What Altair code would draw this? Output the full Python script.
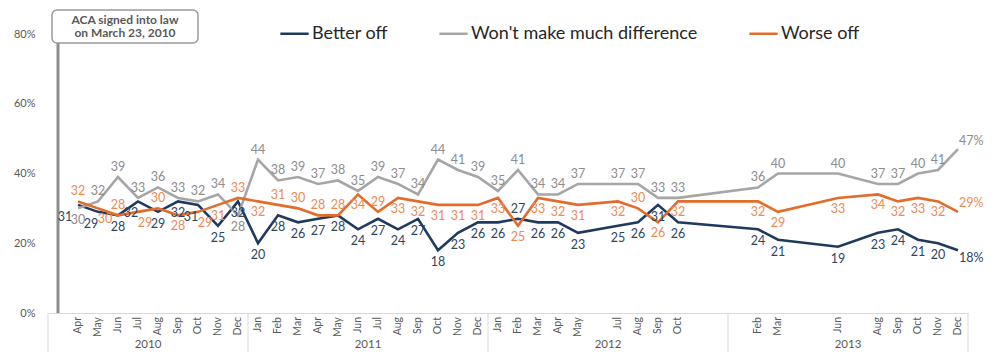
import altair as alt
import pandas as pd

# ---------------- data ----------------
months = [
    "2010-04", "2010-05", "2010-06", "2010-07", "2010-08", "2010-09", "2010-10", "2010-11", "2010-12",
    "2011-01", "2011-02", "2011-03", "2011-04", "2011-05", "2011-06", "2011-07", "2011-08", "2011-09",
    "2011-10", "2011-11", "2011-12",
    "2012-01", "2012-02", "2012-03", "2012-04", "2012-05", "2012-07", "2012-08", "2012-09", "2012-10",
    "2013-02", "2013-03", "2013-06", "2013-08", "2013-09", "2013-10", "2013-11", "2013-12",
]
better_off = [31, 29, 28, 32, 29, 32, 31, 25, 32,
              20, 28, 26, 27, 28, 24, 27, 24, 27, 18, 23, 26,
              26, 27, 26, 26, 23, 25, 26, 31, 26,
              24, 21, 19, 23, 24, 21, 20, 18]
no_difference = [30, 32, 39, 33, 36, 33, 32, 34, 28,
                 44, 38, 39, 37, 38, 35, 39, 37, 34, 44, 41, 39,
                 35, 41, 34, 34, 37, 37, 37, 33, 33,
                 36, 40, 40, 37, 37, 40, 41, 47]
worse_off = [32, 30, 28, 29, 30, 28, 29, 31, 33,
             32, 31, 30, 28, 28, 34, 29, 33, 32, 31, 31, 31,
             33, 25, 33, 32, 31, 32, 30, 26, 32,
             32, 29, 33, 34, 32, 33, 32, 29]
series_names = ["Better off", "Won't make much difference", "Worse off"]
year_labels = ["2010", "2011", "2012", "2013"]
y_ticks = [0, 20, 40, 60, 80]
month_abbr = ["Jan", "Feb", "Mar", "Apr", "May", "Jun", "Jul", "Aug", "Sep", "Oct", "Nov", "Dec"]
aca_month = "2010-03"
annotation_lines = ["ACA signed into law", "on March 23, 2010"]

# ---------------- styles ----------------
series_colors = ["#1f3a5f", "#a6a6a6", "#e46c2a"]
label_colors = ["#2c4563", "#8c8c8c", "#ec8a55"]
last_dy = [8, -8, -9]
ABOVE, BELOW_B, BELOW_O, BELOW_G = -10, 12, 11, 12
SPREAD, FIRST_SHIFT = 7, -13
FONT = "Lato"
W, H = 920, 279


def month_index(s):
    y, m = s.split("-")
    return (int(y) - 2010) * 12 + int(m) - 3


def label_offset(series, b, g, o):
    # place labels away from neighbouring lines
    if series == "Won't make much difference":
        return BELOW_G if g < o else ABOVE
    if series == "Worse off":
        if g < o:
            return ABOVE
        return ABOVE if (g - o >= 6 and 0 <= o - b < 5) else BELOW_O
    return ABOVE if (b > o and g - b >= 6) else BELOW_B


series_vals = [better_off, no_difference, worse_off]
rows = []
for i, mo in enumerate(months):
    b, g, o = better_off[i], no_difference[i], worse_off[i]
    dys = {n: label_offset(n, b, g, o) for n in series_names}
    dxs = {n: 0 for n in series_names}
    # labels of the blue line and another line that both sit below, close together: set side by side
    for other, ov in (("Worse off", o), ("Won't make much difference", g)):
        if dys["Better off"] > 0 and dys[other] > 0 and abs(ov - b) <= 3:
            if i == 0:
                dxs["Better off"] = FIRST_SHIFT
            else:
                dxs["Better off"], dxs[other] = -SPREAD, SPREAD
    last = i == len(months) - 1
    for n, vals in zip(series_names, series_vals):
        v = vals[i]
        rows.append(dict(idx=month_index(mo), series=n, value=v,
                         label=f"{v}%" if last else str(v), last=last, dy=dys[n], dx=dxs[n]))
df = pd.DataFrame(rows)

first_idx = month_index(aca_month) - 0.5
last_idx = month_index(year_labels[-1] + "-12") + 0.5
x_scale = alt.Scale(domain=[first_idx, last_idx], nice=False, zero=False)
y_scale = alt.Scale(domain=[0, 80], nice=False)

base = alt.Chart(df)

lines = base.mark_line(strokeWidth=2.6).encode(
    x=alt.X("idx:Q", scale=x_scale,
            axis=alt.Axis(labels=False, ticks=False, grid=False, domainColor="#d9d9d9",
                          domainWidth=1, title=None)),
    y=alt.Y("value:Q", scale=y_scale,
            axis=alt.Axis(values=y_ticks, labelExpr="datum.value + '%'", domain=False, ticks=False,
                          grid=False, title=None, labelPadding=13, labelFontSize=11,
                          labelColor="#595959", labelFont=FONT)),
    color=alt.Color("series:N", scale=alt.Scale(domain=series_names, range=series_colors),
                    legend=alt.Legend(orient="none", legendX=231, legendY=-16, direction="horizontal",
                                      title=None, symbolType="stroke", symbolSize=800,
                                      symbolStrokeWidth=2.5, labelFontSize=18, labelFont=FONT,
                                      labelColor="#262626", columnPadding=46, labelOffset=2,
                                      labelLimit=0)),
)

layers = [lines]
for name, lc, ldy in zip(series_names, label_colors, last_dy):
    sub = df[(df.series == name) & (~df["last"])]
    for dy, dx in sorted(set(zip(sub["dy"].tolist(), sub["dx"].tolist()))):
        layers.append(
            base.transform_filter((alt.datum.series == name) & (alt.datum.last == False)
                                  & (alt.datum.dy == dy) & (alt.datum.dx == dx))
            .mark_text(dy=dy, dx=dx, fontSize=12.5, color=lc, font=FONT)
            .encode(x=alt.X("idx:Q", scale=x_scale), y=alt.Y("value:Q", scale=y_scale), text="label:N")
        )
    layers.append(
        base.transform_filter((alt.datum.series == name) & (alt.datum.last == True))
        .mark_text(dy=ldy, dx=1, align="left", fontSize=12.5, color=lc, font=FONT)
        .encode(x=alt.X("idx:Q", scale=x_scale), y=alt.Y("value:Q", scale=y_scale), text="label:N")
    )

# month tick labels (rotated)
month_df = pd.DataFrame({"idx": [month_index(m) for m in months],
                         "mon": [month_abbr[int(m.split("-")[1]) - 1] for m in months]})
month_text = alt.Chart(month_df).mark_text(angle=270, align="right", baseline="middle", fontSize=10.5,
                                           color="#595959", font=FONT).encode(
    x=alt.X("idx:Q", scale=x_scale), y=alt.value(H + 4), text="mon:N")

# ACA annotation line
aca_df = pd.DataFrame({"idx": [month_index(aca_month)]})
aca_rule = alt.Chart(aca_df).mark_rule(color="#8c8c8c", strokeWidth=3).encode(
    x=alt.X("idx:Q", scale=x_scale), y=alt.value(9), y2=alt.value(H))
box = alt.Chart(aca_df).mark_rect(fill="white", stroke="#9a9a9a", strokeWidth=1.5, cornerRadius=5).encode(
    x=alt.value(4), x2=alt.value(150), y=alt.value(-24), y2=alt.value(9))
box_text = alt.Chart(aca_df).mark_text(fontSize=12, color="#595959", font=FONT, fontWeight="bold",
                                       lineHeight=13, baseline="middle").encode(
    x=alt.value(77), y=alt.value(-14), text=alt.value(annotation_lines))

# year separators and labels
bounds, mids = [], []
for y in year_labels:
    start = max(first_idx, (int(y) - 2010) * 12 - 2 - 0.5)
    end = (int(y) - 2010) * 12 + 9 + 0.5
    bounds.append(start)
    mids.append((start + end) / 2)
bounds.append(last_idx)
sep_df = pd.DataFrame({"idx": bounds})
year_df = pd.DataFrame({"idx": mids, "year": year_labels})
seps = alt.Chart(sep_df).mark_rule(color="#d9d9d9", strokeWidth=1).encode(
    x=alt.X("idx:Q", scale=x_scale), y=alt.value(H), y2=alt.value(H + 39))
years = alt.Chart(year_df).mark_text(fontSize=11.5, color="#595959", font=FONT).encode(
    x=alt.X("idx:Q", scale=x_scale), y=alt.value(H + 32), text="year:N")

chart = alt.layer(seps, years, month_text, aca_rule, *layers, box, box_text).properties(
    width=W, height=H,
    autosize=alt.AutoSizeParams(type="none"),
    padding={"left": 48, "top": 34, "right": 33, "bottom": 42},
    background="white",
).configure_view(stroke=None)

chart.save("out.html", embed_options={"renderer": "svg", "actions": False})
